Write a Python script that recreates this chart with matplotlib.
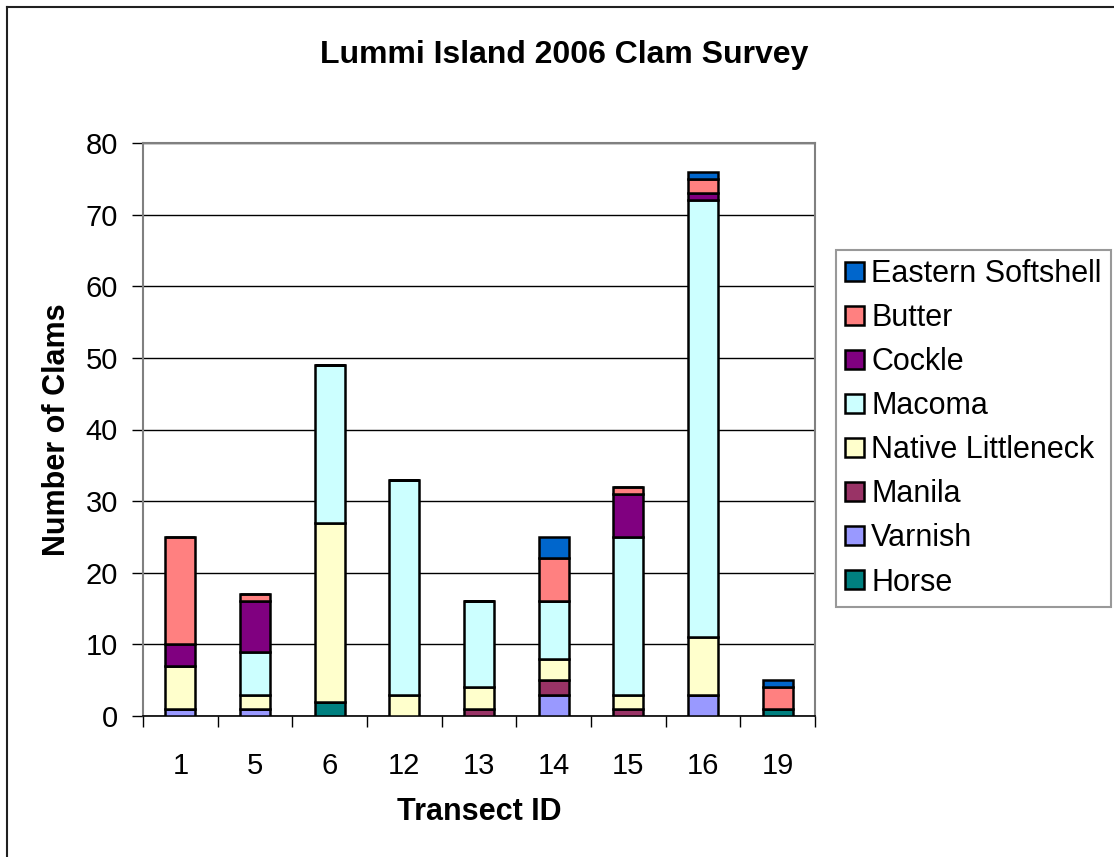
import matplotlib
matplotlib.use("Agg")
import matplotlib.pyplot as plt
from matplotlib.lines import Line2D
import numpy as np

plt.rcParams['font.family'] = ['Liberation Sans', 'DejaVu Sans']

transects = ['1', '5', '6', '12', '13', '14', '15', '16', '19']
# stacking order, bottom to top
species = ['Horse', 'Varnish', 'Manila', 'Native Littleneck', 'Macoma',
           'Cockle', 'Butter', 'Eastern Softshell']
horse = [0, 0, 2, 0, 0, 0, 0, 0, 1]
varnish = [1, 1, 0, 0, 0, 3, 0, 3, 0]
manila = [0, 0, 0, 0, 1, 2, 1, 0, 0]
native = [6, 2, 25, 3, 3, 3, 2, 8, 0]
macoma = [0, 6, 22, 30, 12, 8, 22, 61, 0]
cockle = [3, 7, 0, 0, 0, 0, 6, 1, 0]
butter = [15, 1, 0, 0, 0, 6, 1, 2, 3]
eastern = [0, 0, 0, 0, 0, 3, 0, 1, 1]
values = [horse, varnish, manila, native, macoma, cockle, butter, eastern]
colors = ['#008080', '#9999FF', '#993366', '#FFFFCC', '#CCFFFF',
          '#800080', '#FF8080', '#0066CC']

W, H = 1114, 857
fig = plt.figure(figsize=(W / 100, H / 100), dpi=100)
ax = fig.add_axes([143 / W, (H - 716) / H, (815 - 143) / W, (716 - 143) / H])

x = np.arange(len(transects))
bottom = np.zeros(len(transects))
handles = []
for name, vals, c in zip(species, values, colors):
    vals = np.array(vals, dtype=float)
    b = ax.bar(x, vals, 0.4, bottom=bottom, color=c, edgecolor='black',
               linewidth=1.8, label=name, zorder=3)
    handles.append(b)
    bottom += vals

ax.set_xlim(-0.5, len(transects) - 0.5)
ax.set_ylim(0, 80)
ax.set_yticks(range(0, 81, 10))
ax.yaxis.grid(True, color='black', linewidth=1.0, zorder=0)
ax.set_xticks(x)
ax.set_xticklabels(transects)
ax.set_xticks(np.arange(-0.5, len(transects)), minor=True)
ax.tick_params(axis='x', which='major', length=0, labelsize=21, pad=26)
ax.tick_params(axis='x', which='minor', length=8, width=1, direction='out')
ax.tick_params(axis='y', length=8, width=1, direction='out', labelsize=21, pad=10)

for s in ['left', 'top', 'right']:
    ax.spines[s].set_color('#808080')
    ax.spines[s].set_linewidth(1.5)
ax.spines['bottom'].set_color('black')
ax.spines['bottom'].set_linewidth(1.2)

ax.set_xlabel('Transect ID', fontsize=22, fontweight='bold', labelpad=12)
ax.set_ylabel('Number of Clams', fontsize=22, fontweight='bold', labelpad=10)
fig.text((320 + 808) / 2 / W, 1 - 55 / H, 'Lummi Island 2006 Clam Survey',
         ha='center', va='center', fontsize=23, fontweight='bold')

leg = ax.legend(handles[::-1], species[::-1], loc='upper left',
                bbox_to_anchor=(836 / W, 1 - 250 / H), bbox_transform=fig.transFigure,
                fontsize=22, frameon=True, fancybox=False, edgecolor='#808080',
                handlelength=0.6, handleheight=0.6, handletextpad=0.25,
                labelspacing=0.46, borderpad=0.3, borderaxespad=0)
leg.get_frame().set_linewidth(1.5)

# chart area border (cut off at right and bottom)
fig.add_artist(Line2D([7 / W, 7 / W], [0, 1 - 7 / H], color='#202020',
                      linewidth=1.5, transform=fig.transFigure))
fig.add_artist(Line2D([7 / W, 1], [1 - 7 / H, 1 - 7 / H], color='#202020',
                      linewidth=1.5, transform=fig.transFigure))

fig.savefig('out.png', dpi=100)
